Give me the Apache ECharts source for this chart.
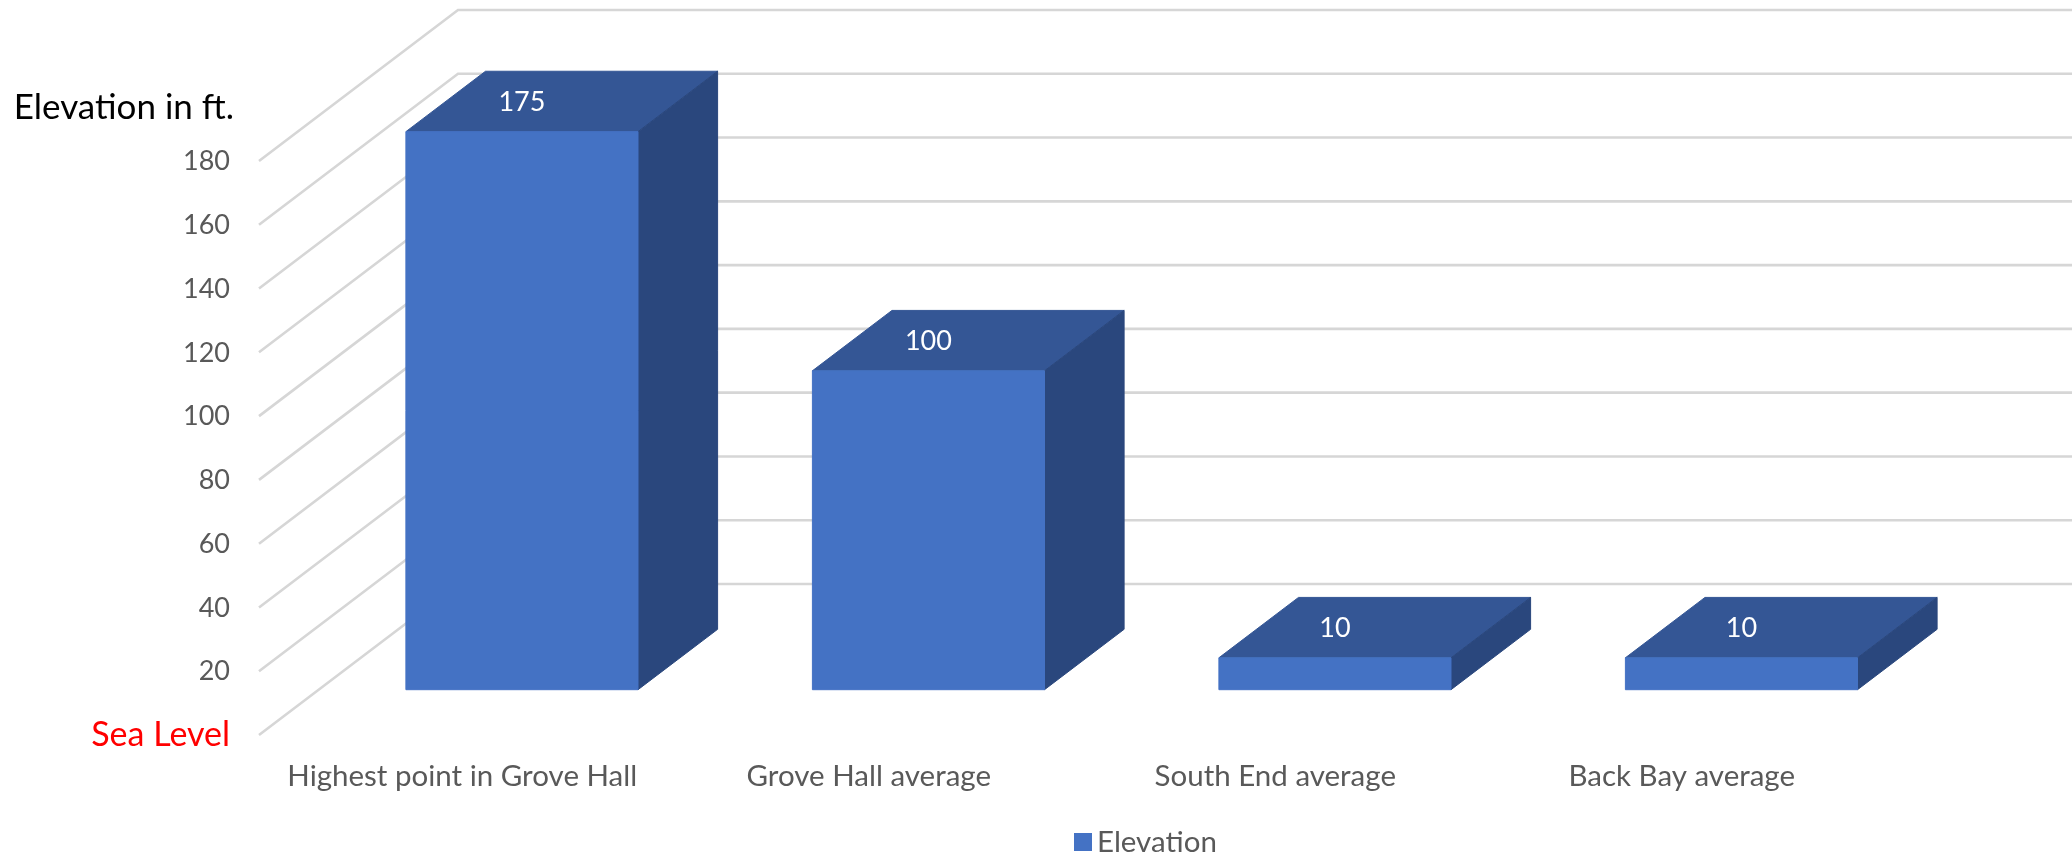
<!DOCTYPE html>
<html>
<head>
<meta charset="utf-8">
<style>html,body{margin:0;padding:0;background:#fff}#chart{width:2072px;height:852px}</style>
<script src="https://cdn.jsdelivr.net/npm/echarts@6/dist/echarts.min.js"></script>
</head>
<body>
<div id="chart"></div>
<script>
const categories = ['Highest point in Grove Hall', 'Grove Hall average', 'South End average', 'Back Bay average'];
const elevation = [175, 100, 10, 10];
const yTicks = [0, 20, 40, 60, 80, 100, 120, 140, 160, 180];

// Oblique projection: moving from the front of the floor to the back wall shifts a point by this vector.
const DEPTH_X = 199, DEPTH_Y = -151;
const BAR_FRONT = 0.30, BAR_BACK = 0.70, BAR_WIDTH = 0.571;
const FONT = 'Lato, "Open Sans", sans-serif';
const FRONT = '#4472C4', TOP = '#345695', SIDE = '#2A477D', GRID = '#D6D6D6';

const shift = (p, d) => [p[0] + DEPTH_X * d, p[1] + DEPTH_Y * d];

function renderWall(params, api) {
  const c = params.coordSys;
  const y = api.coord([0, api.value(1)])[1];
  const start = [c.x, y];
  const corner = shift(start, 1);
  const end = shift([c.x + c.width, y], 1);
  return {
    type: 'polyline',
    shape: { points: [start, corner, end] },
    style: { fill: null, stroke: GRID, lineWidth: 2.6 },
    silent: true
  };
}

function renderBar(params, api) {
  const value = api.value(1);
  const base = api.coord([api.value(0), 0]);
  const top = api.coord([api.value(0), value]);
  const half = api.size([1, 0])[0] * BAR_WIDTH / 2;
  const corners = (d) => ({
    bl: shift([base[0] - half, base[1]], d),
    br: shift([base[0] + half, base[1]], d),
    tl: shift([base[0] - half, top[1]], d),
    tr: shift([base[0] + half, top[1]], d)
  });
  const f = corners(BAR_FRONT), b = corners(BAR_BACK);
  const face = (pts, color) => ({
    type: 'polygon',
    shape: { points: pts },
    style: { fill: color, stroke: color, lineWidth: 1 }
  });
  return {
    type: 'group',
    children: [
      face([f.tl, f.tr, b.tr, b.tl], TOP),
      face([f.tr, f.br, b.br, b.tr], SIDE),
      face([f.tl, f.tr, f.br, f.bl], FRONT),
      {
        type: 'text',
        style: {
          text: String(value),
          x: (f.tl[0] + f.tr[0]) / 2,
          y: (f.tl[1] + b.tl[1]) / 2 + 1,
          fill: '#fff',
          font: '27px ' + FONT,
          align: 'center',
          verticalAlign: 'middle'
        }
      }
    ]
  };
}

const chart = echarts.init(document.getElementById('chart'), null, { renderer: 'canvas' });
chart.setOption({
  animation: false,
  backgroundColor: '#fff',
  grid: { left: 259, width: 1626, top: 161, height: 574, containLabel: false },
  legend: {
    data: ['Elevation'],
    left: 1069,
    top: 822,
    icon: 'rect',
    itemWidth: 18,
    itemHeight: 18,
    itemGap: 11,
    textStyle: { color: '#595959', fontFamily: FONT, fontSize: 29.5 }
  },
  xAxis: {
    type: 'category',
    data: categories,
    axisLine: { show: false },
    axisTick: { show: false },
    splitLine: { show: false },
    axisLabel: { color: '#595959', fontFamily: FONT, fontSize: 29.5, margin: 26, interval: 0 }
  },
  yAxis: {
    type: 'value',
    min: 0,
    max: 180,
    interval: 20,
    name: 'Elevation in ft.',
    nameLocation: 'end',
    nameGap: 36,
    nameTextStyle: { color: '#000', fontFamily: FONT, fontSize: 35, align: 'right', padding: [0, 25, 0, 0] },
    axisLine: { show: false },
    axisTick: { show: false },
    splitLine: { show: false },
    axisLabel: {
      margin: 29,
      padding: [1, 0, 0, 0],
      fontFamily: FONT,
      fontSize: 27,
      color: '#595959',
      formatter: (v) => (v === 0 ? '{sea|Sea Level}' : String(v)),
      rich: { sea: { color: '#FF0000', fontFamily: FONT, fontSize: 34 } }
    }
  },
  series: [
    {
      name: 'Wall',
      type: 'custom',
      z: 1,
      silent: true,
      clip: false,
      renderItem: renderWall,
      data: yTicks.map((v) => [0, v])
    },
    {
      name: 'Elevation',
      type: 'custom',
      z: 2,
      clip: false,
      itemStyle: { color: FRONT },
      renderItem: renderBar,
      encode: { x: 0, y: 1 },
      data: elevation.map((v, i) => [i, v])
    }
  ]
});
</script>
</body>
</html>
